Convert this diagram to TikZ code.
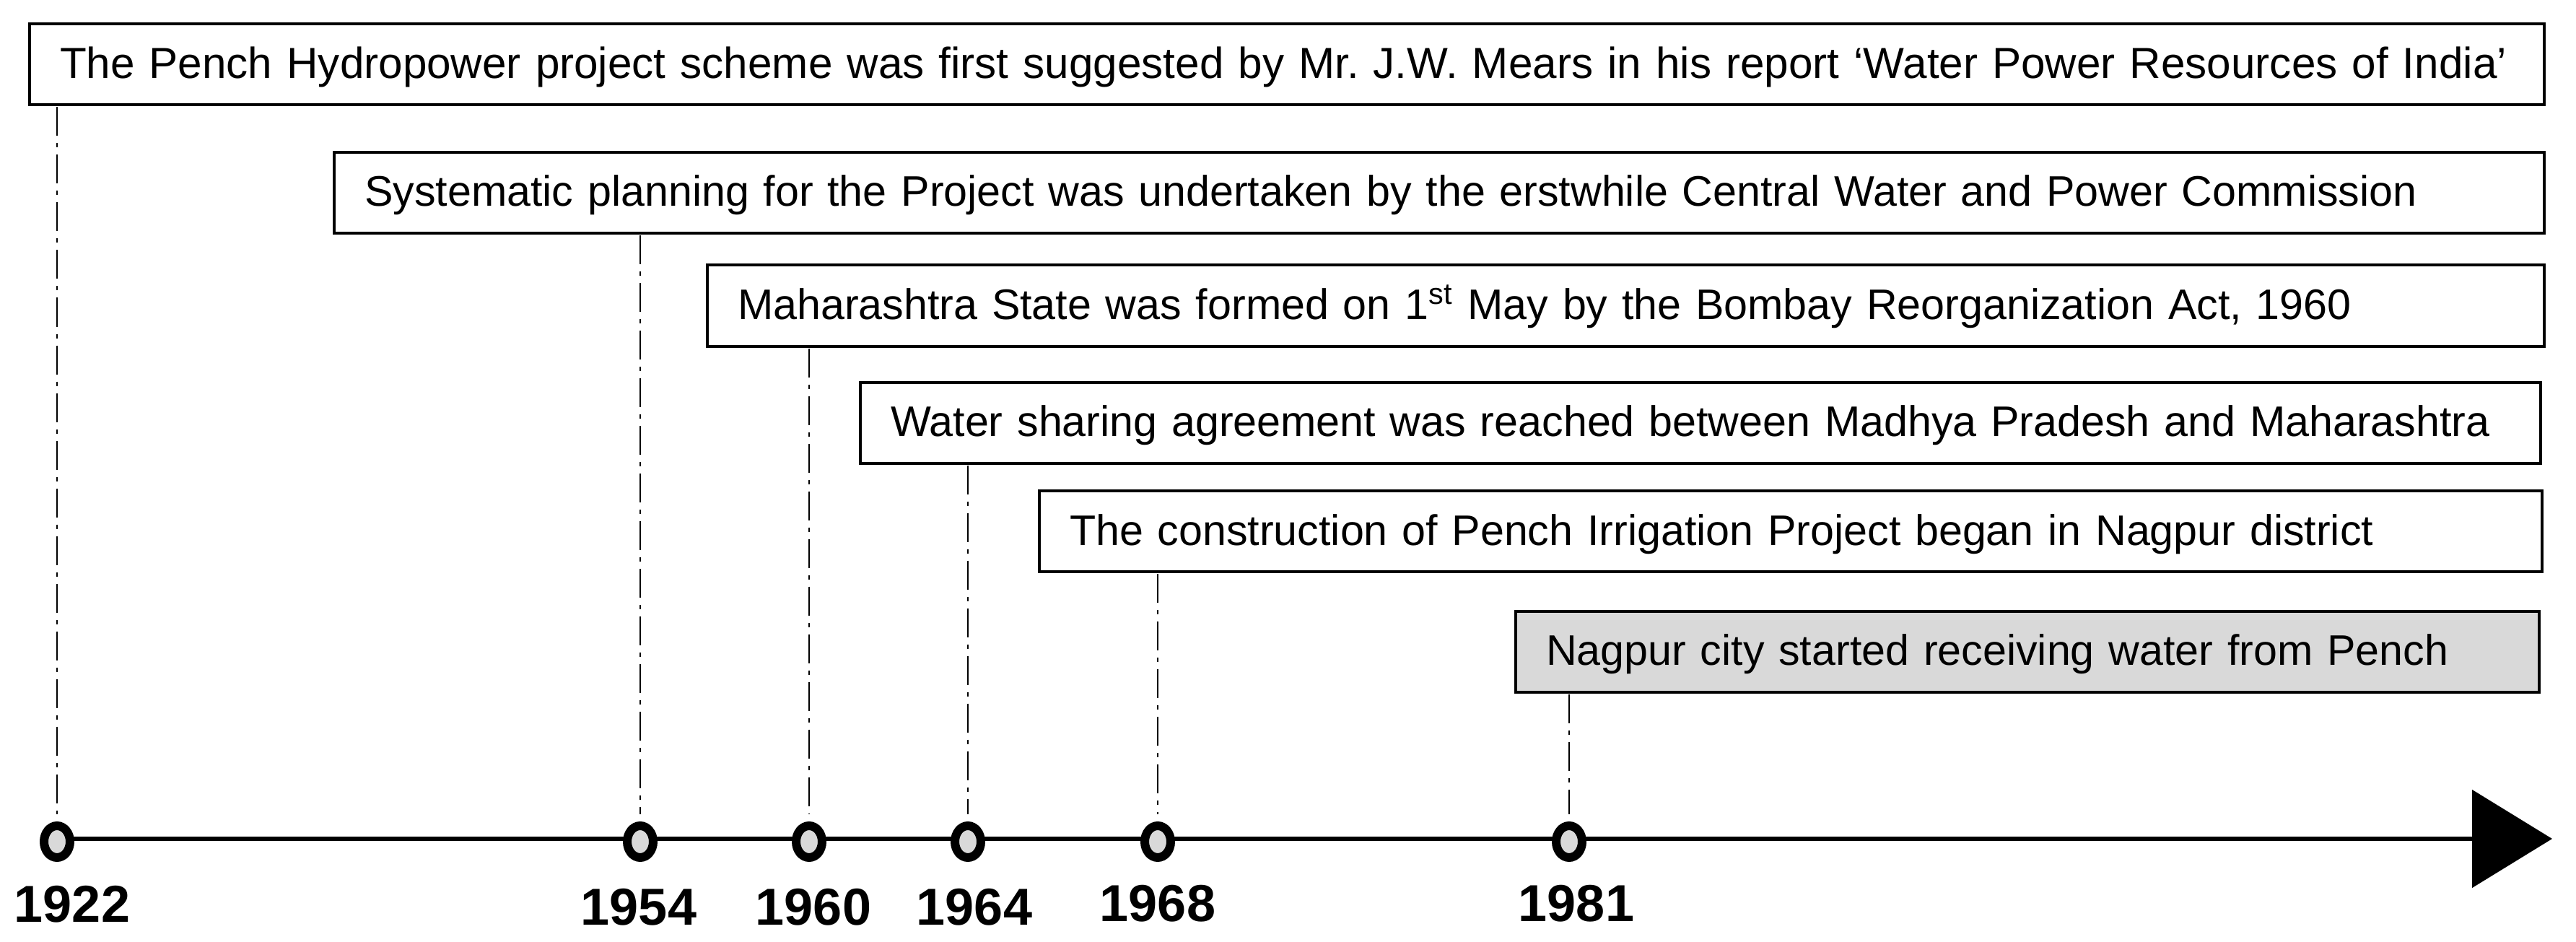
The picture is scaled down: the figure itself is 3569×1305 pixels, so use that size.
\documentclass[tikz,border=0pt]{standalone}
\usepackage{fontspec}
\setmainfont{Liberation Sans}
\usetikzlibrary{shapes.geometric,arrows.meta}
\definecolor{boxgray}{HTML}{D9D9D9}
\frenchspacing
\begin{document}
\begin{tikzpicture}[x=0.25pt,y=-0.25pt,
  eventbox/.style={draw=black, line width=1pt, anchor=west, outer sep=0pt,
    inner xsep=10.5pt, inner ysep=0pt, minimum height=28pt, align=left,
    text height=11pt, text depth=1.5pt, font=\fontsize{14.8}{18}\selectfont\frenchspacing},
  yearlbl/.style={font=\bfseries\fontsize{18}{21}\selectfont, inner sep=0pt, anchor=center},
  yeardot/.style={ellipse, draw=black, fill=boxgray, line width=3pt,
    minimum width=9pt, minimum height=11pt, inner sep=0pt},
  leader/.style={line width=0.6pt, dash pattern=on 10pt off 2.5pt on 1.5pt off 2.5pt,
    shorten <=0.75pt, shorten >=2.5pt}]
\useasboundingbox (0,0) rectangle (3569,1305);

% event boxes
\node[eventbox, text width=850pt, font=\fontsize{15.05}{18}\selectfont\frenchspacing] (e1) at (41,89.5)
  {\mbox{The Pench Hydropower project scheme was first suggested by Mr. J.W. Mears in his report ‘Water Power Resources of India’}};
\node[eventbox, text width=744.5pt] (e2) at (463,267)
  {\mbox{Systematic planning for the Project was undertaken by the erstwhile Central Water and Power Commission}};
\node[eventbox, text width=615.25pt] (e3) at (980,423.5)
  {\mbox{Maharashtra State was formed on 1\textsuperscript{st} May by the Bombay Reorganization Act, 1960}};
\node[eventbox, text width=561pt] (e4) at (1192,585.5)
  {\mbox{Water sharing agreement was reached between Madhya Pradesh and Maharashtra}};
\node[eventbox, text width=499.5pt] (e5) at (1440,736)
  {\mbox{The construction of Pench Irrigation Project began in Nagpur district}};
\node[eventbox, fill=boxgray, text width=333.5pt] (e6) at (2100,902.5)
  {\mbox{Nagpur city started receiving water from Pench}};

% timeline
\coordinate (tstart) at (79,1162);
\coordinate (tend) at (3536,1162);
\draw[line width=1.3pt, -{Triangle[length=27.75pt,width=33.75pt]}] (tstart) -- (tend);

% year markers
\node[yeardot] (c1) at (79,1166) {};
\node[yeardot] (c2) at (887,1166) {};
\node[yeardot] (c3) at (1121,1166) {};
\node[yeardot] (c4) at (1341,1166) {};
\node[yeardot] (c5) at (1604,1166) {};
\node[yeardot] (c6) at (2174,1166) {};

% year labels
\node[yearlbl] (y1) at (100,1253) {1922};
\node[yearlbl] (y2) at (885,1257) {1954};
\node[yearlbl] (y3) at (1127,1257) {1960};
\node[yearlbl] (y4) at (1350,1257) {1964};
\node[yearlbl] (y5) at (1604,1252) {1968};
\node[yearlbl] (y6) at (2184,1252) {1981};

% leaders
\draw[leader] (e1.south -| c1) -- (c1.north);
\draw[leader] (e2.south -| c2) -- (c2.north);
\draw[leader] (e3.south -| c3) -- (c3.north);
\draw[leader] (e4.south -| c4) -- (c4.north);
\draw[leader] (e5.south -| c5) -- (c5.north);
\draw[leader] (e6.south -| c6) -- (c6.north);
\end{tikzpicture}
\end{document}
